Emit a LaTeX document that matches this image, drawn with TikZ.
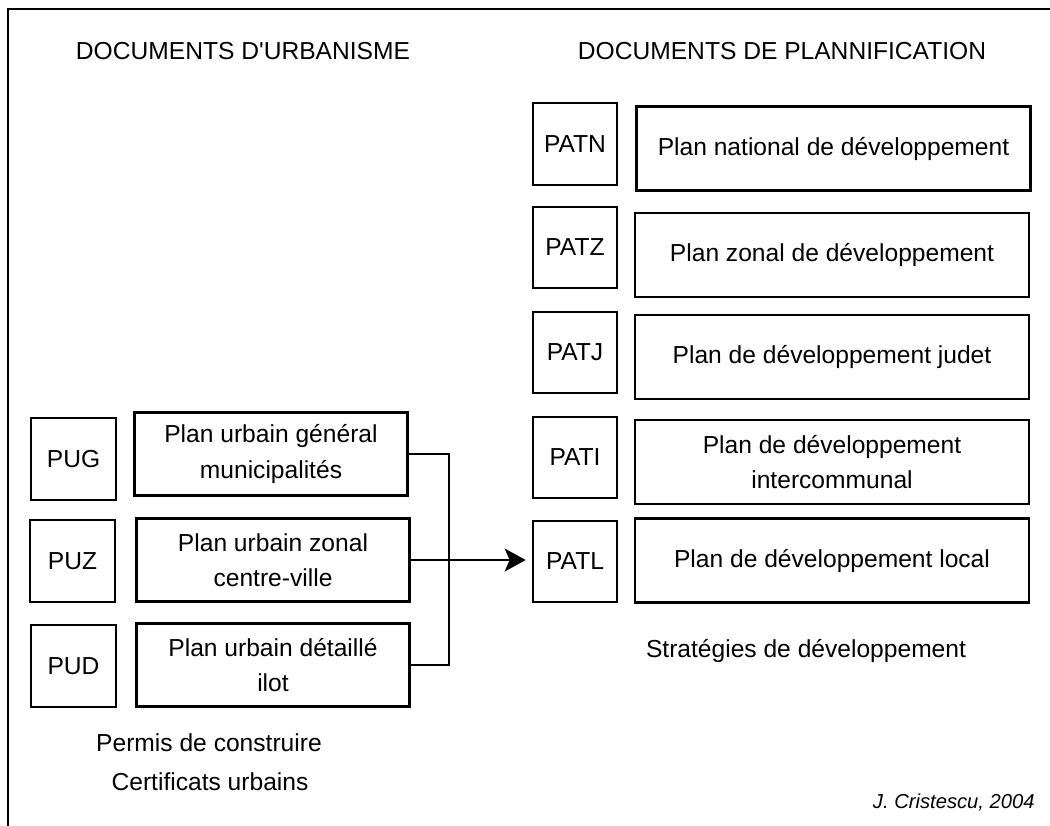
\documentclass[tikz,border=0pt]{standalone}
\usepackage{fontspec}
\setmainfont{Liberation Sans}
\usetikzlibrary{arrows.meta, positioning}

\tikzset{
  frameline/.style={line width=1.7pt},
  codebox/.style={draw, line width=1.25pt, minimum width=1.69cm, minimum height=1.63cm, inner sep=0pt},
  urbbox/.style={draw, line width=1.25pt, minimum width=5.46cm, minimum height=1.66cm, inner sep=0pt, align=center},
  devbox/.style={draw, line width=1.25pt, minimum width=7.88cm, minimum height=1.68cm, inner sep=0pt, align=center},
  caption/.style={inner sep=0pt, align=center},
  link/.style={line width=1.25pt}
}

\begin{document}
\begin{tikzpicture}[x=0.02cm, y=-0.02cm, font=\fontsize{14}{20}\selectfont]
  \useasboundingbox (0,0) rectangle (1050,825);
  % frame (cut at the page edge)
  \draw[frameline] (8,830) |- (1055,9);

  % titles
  \node[caption] (urbtitle) at (243,51) {DOCUMENTS D\textquotesingle URBANISME};
  \node[caption] (devtitle) at (782,51) {DOCUMENTS DE PLANNIFICATION};

  % urban planning documents
  \node[codebox] (pug) at (73.5,459) {PUG};
  \node[codebox] (puz) at (72.5,561) {PUZ};
  \node[codebox] (pud) at (73.5,666) {PUD};
  \node[urbbox] (pugtxt) at (271,454) {Plan urbain général\\municipalités};
  \node[urbbox] (puztxt) at (273,560) {Plan urbain zonal\\centre-ville};
  \node[urbbox] (pudtxt) at (273,665) {Plan urbain détaillé\\ilot};

  % development plans
  \node[codebox] (patn) at (575,144) {PATN};
  \node[codebox] (patz) at (575,247.5) {PATZ};
  \node[codebox] (patj) at (575,352.5) {PATJ};
  \node[codebox] (pati) at (575,457.5) {PATI};
  \node[codebox] (patl) at (575,561.5) {PATL};
  \node[devbox] (patntxt) at (833.5,148.5) {Plan national de développement};
  \node[devbox] (patztxt) at (832,255) {Plan zonal de développement};
  \node[devbox] (patjtxt) at (832,357) {Plan de développement judet};
  \node[devbox] (patitxt) at (832,462) {Plan de développement\\intercommunal};
  \node[devbox] (patltxt) at (832,560.5) {Plan de développement local};

  % captions
  \node[caption] (permis) at (209,743) {Permis de construire};
  \node[caption] (certif) at (210,782) {Certificats urbains};
  \node[caption] (strat) at (806,651) {Stratégies de développement};
  \node[caption, font=\fontsize{11.5}{14}\selectfont\itshape, anchor=east] (author) at (1035,802) {J. Cristescu, 2004};

  % bracket and arrow
  \coordinate (join) at (449,561);
  \draw[link] (pugtxt.east) -| (join);
  \draw[link] (pudtxt.east) -| (join);
  \draw[link, -{Stealth[length=0.42cm, width=0.46cm, inset=0.1cm]}, shorten >=0.12cm] (puztxt.east) -- (puztxt.east -| patl.west);
\end{tikzpicture}
\end{document}
